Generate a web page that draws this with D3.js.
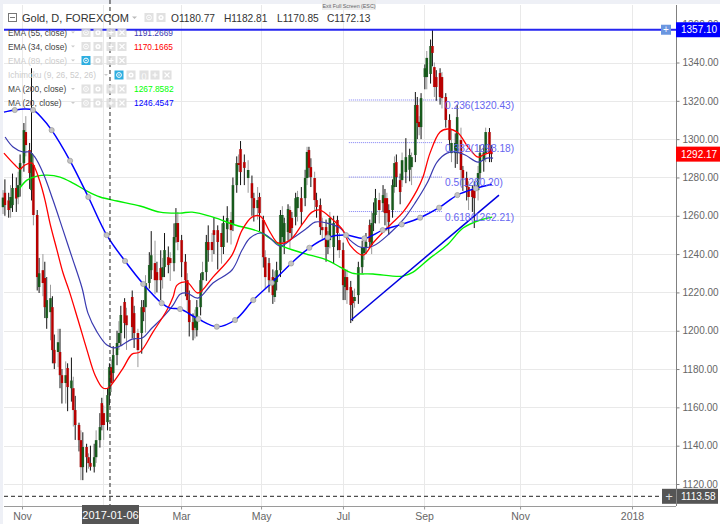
<!DOCTYPE html>
<html><head><meta charset="utf-8">
<style>html,body{margin:0;padding:0;background:#fff;overflow:hidden}svg{display:block}text{font-family:"Liberation Sans",Arial,sans-serif}</style>
<script src="https://cdn.jsdelivr.net/npm/d3@7"></script></head><body><script>
const candleDays=[0,1,3,4,5,7,8,9,11,12,14,15,16,18,19,21,22,23,25,26,27,29,30,31,33,34,36,37,38,40,41,42,44,45,46,48,49,51,52,53,55,56,57,58,60,61,62,64,65,68,69,71,73,74,75,77,78,80,81,83,84,85,87,88,90,91,92,94,96,97,98,100,101,102,104,105,107,108,110,111,113,115,116,118,120,121,123,124,125,127,129,131,132,134,135,137,138,140,142,143,144,146,147,148,150,151,152,154,155,157,159,160,161,162,164,165,167,168,170,171,172,174,176,177,179,180,181,183,184,185,187,189,190,191,193,194,195,196,198,200,201,202,203,205,206,207,209,210,212,214,215,217,218,219,220,222,223,225,226,227,228,230,231,233,235,236,238,239,241,242,244,245,247,248,250,251,253,254,256,257];
const opens=[1264.5,1272,1268,1264,1265.6,1274.5,1269.7,1276,1287.5,1303.7,1294.3,1273.4,1286.5,1260.4,1222.8,1231.6,1227.5,1206.6,1209.7,1212.3,1190,1188.9,1188.9,1176.8,1172.7,1180.5,1170,1170,1158.6,1150.8,1142.9,1128.8,1139.3,1134,1131,1129,1134,1142.9,1162.2,1157,1152.3,1166.4,1181,1177.9,1187.3,1193.6,1198.8,1215,1208,1217.6,1209.2,1198.8,1198.8,1212.3,1212.3,1224.9,1231.6,1235.3,1230.6,1232.7,1228,1233.2,1238.4,1237.9,1235.3,1248.9,1256.2,1247.3,1236,1226.4,1216,1204.5,1201.5,1200.3,1212.3,1226.4,1230.6,1246.3,1246.3,1252.5,1252.5,1251,1243.7,1253,1257.8,1255.2,1276,1287.5,1294.8,1288,1279.7,1277,1269.2,1264,1269.8,1257.8,1238.4,1235.3,1228,1217.6,1225.4,1231.6,1248.9,1246.3,1251.5,1263,1258.8,1259.4,1264,1269.2,1269.2,1279.7,1294.3,1285.4,1279.7,1268.2,1265.6,1254.1,1254.1,1243.7,1247.3,1243.7,1257.8,1247.3,1242.1,1222.8,1228,1222.8,1217.6,1215.5,1218.6,1233.2,1240.5,1243.7,1255.2,1244.7,1256.2,1260.4,1268.2,1266.6,1269.2,1269.2,1263,1263,1275,1288,1278.6,1278.6,1282.8,1284,1285.4,1291.7,1317.8,1309,1306.3,1332.4,1332.4,1334,1348.6,1337.6,1332.4,1334.5,1332.4,1322,1310,1292.7,1292.7,1292.7,1299.5,1283.9,1279.7,1275,1273.4,1274.5,1273.4,1282.3,1289,1292.7,1303.7,1295];
const closes=[1269.5,1265.6,1263,1269.8,1274.5,1269,1276,1287.5,1304.7,1296.9,1282.3,1292.7,1260.4,1228,1230,1224.9,1212.3,1216,1217,1189.9,1183,1194,1176.8,1172.7,1176.8,1170.6,1174,1158.6,1150.8,1142.9,1128.8,1139.3,1134,1130.9,1129,1134,1142.9,1149.7,1150.8,1150.8,1166.4,1181,1172.7,1187.3,1193.6,1198.8,1208.2,1204,1202.9,1201.9,1198.8,1189.9,1212.3,1209.7,1224.9,1234.3,1239.4,1226.4,1226.4,1226.4,1233.2,1242.1,1234.3,1235.3,1248.9,1256.2,1246.3,1235.8,1226.4,1216,1204.5,1200.3,1206.6,1212.3,1226.4,1230.6,1246.3,1242.1,1242.1,1250,1246.3,1243.7,1256.2,1258.8,1252.5,1276,1287.5,1286.5,1282.8,1285,1283.9,1269.2,1264,1268.2,1261.4,1238.4,1228,1226.4,1218.6,1227.5,1231.6,1260.4,1260.4,1256.2,1263.5,1251,1253.6,1269.2,1269.8,1262,1279.7,1293.3,1285,1280.2,1268.2,1264.6,1254.1,1252.5,1243.7,1247.3,1258.8,1256.2,1251,1242.1,1223.8,1228,1221.2,1213.4,1214.4,1217.6,1233.2,1243.7,1243.7,1246.3,1246.3,1256.2,1261.4,1269.2,1263,1270.8,1261.4,1261.4,1256.8,1276,1287.5,1280.2,1272.4,1289,1290.6,1291.7,1290.6,1317.8,1308.4,1306.3,1321.4,1337,1342.4,1348.6,1345,1327.2,1327.2,1322,1321.4,1310,1299.5,1298,1298,1311.5,1283.9,1279.7,1275,1269.8,1269.8,1269.2,1282.3,1292.7,1293,1303.7,1292.7,1292.17];
const highs=[1273.4,1279,1272,1276,1282,1280,1283,1292,1308.4,1312,1298,1337,1292,1263,1238,1240,1236,1228,1224,1218,1198,1201,1201,1180,1184,1183,1186,1176,1166,1152,1148,1147,1141,1136,1140,1141,1148,1157,1165,1161,1170,1183,1185,1192,1200,1205,1213,1217,1212,1221,1213,1201,1216,1216,1229,1241,1252,1247,1236,1242,1238,1251,1244,1241,1256,1264,1262,1250,1240,1230,1221,1209,1211,1216,1230,1236,1250,1255,1251,1259,1255,1256,1260,1265,1262,1280,1291,1292,1299,1292,1289,1281,1272,1275,1272,1260,1242,1238,1232,1231,1236,1263,1265,1259,1266,1265,1262,1272,1273,1275,1284,1296,1296,1290,1283,1272,1269,1259,1258,1252,1262,1260,1260,1251,1246,1232,1232,1226,1221,1222,1236,1247,1248,1251,1258,1262,1267,1274,1272,1276,1274,1272,1266,1279,1291,1292,1282,1293,1300.5,1295,1293,1324.6,1322,1312,1324,1339,1346,1352,1357.1,1340,1336,1337,1335,1324,1313,1305,1303,1318,1306,1286,1283,1278,1276,1278,1286,1297,1297,1306,1305.8,1297];
const lows=[1260.9,1260,1259,1259,1262,1262,1266,1270,1283,1291,1274,1268,1255,1221,1219.7,1218,1206.6,1201,1195,1183,1180,1181,1170,1162,1162,1158,1163,1150,1143,1137,1122,1122,1126,1128,1127,1126,1131,1139,1148,1143,1148,1161,1168,1173,1182,1190,1192,1196,1190,1196,1191,1181,1188,1205,1199,1222,1227,1219,1220,1216,1222,1228,1230,1226,1231,1246,1242,1228,1218,1210,1197,1195,1196,1197,1208,1220,1226,1236,1236,1240,1232,1235,1240,1246,1245,1252,1272,1283,1276,1276,1272,1260,1257,1258,1252,1233,1222,1220,1214,1215,1221,1228,1245,1240,1247,1243,1248,1255,1257,1255,1265,1276,1280,1275,1263,1259,1250,1248,1236,1240,1243,1235,1242,1238,1216,1216,1214,1204,1205,1212,1214,1230,1237,1240,1243,1240,1252,1256,1256,1262,1255,1252,1250,1259,1272,1275,1266,1275,1277,1278,1276,1288,1300,1302,1300,1326,1326,1329,1338,1322,1320,1318,1316,1306,1294,1288,1285,1287,1276,1273,1268,1263,1262,1253.6,1268,1279,1283,1288,1288,1288];
const ma20Days=[0.5,6.2,11,15.8,20.5,25.6,35.3,44.9,54.6,64.2,73.8,83.5,87.9,93.2,102.8,112.5,122.1,131.7,141.4,151.6,161.2,170.9,180.5,190.2,199.8,209.8,219.5,229.5,239.1,248.8,257.2];
const ma20Values=[1314.1,1315.2,1315.7,1315.2,1311,1304.7,1288.7,1269.8,1249.9,1236.4,1224.4,1214.4,1211.8,1211.3,1206.1,1202.1,1205.6,1216,1225,1235.1,1243.3,1248.7,1249.9,1248.2,1252.5,1255.5,1259,1264.2,1270.8,1274.3,1276.4];
const ma20Unmarked=[0.5,11,20.5,87.9,257.2];
const ema34Days=[0.5,6.3,8.9,11.6,15.3,16.8,19.5,22.1,24.7,28.4,31.6,34.7,39.5,44.2,48.4,52.6,55.3,58.9,63.2,67.9,72.1,78.9,86.3,89.5,91.6,96.8,102.6,110.5,120.5,125.8,131,135.3,140.5,144.7,151,157.9,162.6,166.8,173.7,178.9,182.6,189.5,194.7,203.7,210.5,217.9,221,224.7,230,234.2,239.5,244.7,250,252.6,257.4];
const ema34Values=[1292.7,1286.5,1284.4,1286.5,1287.5,1284.9,1277.6,1268.2,1256.2,1242.1,1230.1,1221.2,1205.6,1189.9,1176.9,1170.1,1170.1,1174.2,1180.5,1187.8,1188.9,1199.3,1210.8,1217.6,1223.8,1225.4,1219.7,1228,1239.5,1252.5,1259.3,1259.8,1251.5,1245.8,1247.3,1256.2,1261.9,1263,1257.8,1252.5,1244.7,1239.5,1245.8,1255.2,1261.9,1273.4,1280.2,1292.7,1303.7,1305.3,1303.2,1295.9,1290.6,1291.7,1293.3];
const ema55Days=[1.1,5.3,10.5,14.2,16.8,21.1,26.3,31.6,36.3,41.6,44.7,49.5,54.7,58.9,62.6,67.9,73.2,78.4,84.2,89.5,93.2,96.8,102.6,110.5,120.5,125.8,130,136.3,140.5,145.8,152.6,160,164.2,170.5,177.4,182.6,187.9,194.7,203.7,210.5,216.8,223.2,228.4,233.7,237.9,243.2,250,254.7,257.9];
const ema55Values=[1301.1,1295.9,1293.3,1293.3,1290.6,1282.3,1268.2,1252.5,1238.4,1222.3,1209.2,1199.3,1192.5,1191,1192.5,1195.6,1196.2,1201.4,1207.1,1213.4,1219.1,1219.7,1217,1224.9,1231.7,1242.1,1248.4,1251,1248.4,1244.2,1248.4,1253.6,1256.7,1256.2,1253.6,1247.3,1243.7,1244.2,1251,1257.8,1266.6,1277.1,1288,1292.7,1293.3,1291.7,1288,1290.1,1290.1];
const ma200Days=[8.9,12.6,17.9,23.2,30,36.8,44.2,51.1,60,72.1,82.6,93.2,99.5,110.5,122.1,135.3,145.8,157.9,170.5,177.4,183.7,194.7,210.5,215.8,224.7,233.7,242.1,251.1,257.4];
const ma200Values=[1274.5,1278.6,1280.7,1281.2,1280.2,1277.1,1272.9,1269.8,1267.7,1265.1,1261.9,1261.4,1261.9,1259.3,1255.2,1251.5,1244.7,1240.5,1236.9,1233.2,1230.1,1229.6,1228.5,1230.6,1237.9,1244.7,1253.6,1257.8,1259.3];
const trendDays=[183.2,261], trendPrices=[1205.6,1270.8];
const fibLevels=["0.236","0.382","0.5","0.618"], fibPrices=[1320.43,1298.18,1280.20,1262.21];
const fibStartDay=182, fibEndDay=231;
const priceTicks=[1120,1140,1160,1180,1200,1220,1240,1260,1280,1300,1320,1340,1360];
const timeTickDays=[10,52.6,93.7,135.8,178.9,221.6,272.1,331];
const timeTickLabels=["Nov","","Mar","May","Jul","Sep","Nov","2018"];
const highLevel=1357.10,lastPrice=1292.17,crossPrice=1113.58,crossDay=56.3,crossLabel="2017-01-06";
const legendRows=[["EMA (55, close)","1191.2669","#3a3ab0",false],["EMA (34, close)","1170.1665","#ff0000",false],["EMA (89, close)","","",true],["Ichimoku (9, 26, 52, 26)","","",true],["MA (200, close)","1267.8582","#00ff00",false],["MA (20, close)","1246.4547","#0000ff",false]];

const W=720,H=524,plotL=4,plotR=676,plotT=5,plotB=506;
const x=d3.scaleLinear().domain([0,331]).range([3,632]);
const y=d3.scaleLinear().domain([1120,1340]).range([484,62.5]);
const svg=d3.select("body").append("svg").attr("width",W).attr("height",H);
svg.append("rect").attr("width",W).attr("height",H).attr("fill","#fff");
svg.append("rect").attr("width",W).attr("height",4).attr("fill","#eef0f6");
svg.append("rect").attr("width",3).attr("height",H).attr("fill","#eef0f6");
const grid=svg.append("g").attr("stroke","#e9e9e9").attr("stroke-width",1);
grid.selectAll(".h").data(priceTicks.slice(0,-1)).join("line").attr("x1",plotL).attr("x2",plotR).attr("y1",d=>Math.round(y(d))+.5).attr("y2",d=>Math.round(y(d))+.5);
grid.selectAll(".v").data(timeTickDays).join("line").attr("x1",d=>Math.round(x(d))+.5).attr("x2",d=>Math.round(x(d))+.5).attr("y1",plotT).attr("y2",plotB);

// fib
const fib=svg.append("g");
fib.selectAll("line").data(fibPrices).join("line").attr("x1",x(fibStartDay)).attr("x2",x(fibEndDay)).attr("y1",d=>y(d)).attr("y2",d=>y(d)).attr("stroke","#7f7ff5").attr("stroke-width",1).attr("stroke-dasharray","1 1");

// candles
const bars=candleDays.map((d,i)=>({d,i,o:opens[i],c:closes[i],h:highs[i],l:lows[i]}));
const cg=svg.append("g");
cg.selectAll(".w").data(bars).join("line").attr("x1",d=>x(d.d)).attr("x2",d=>x(d.d)).attr("y1",d=>y(d.h)).attr("y2",d=>y(d.l)).attr("stroke",d=>d.i%3===0?"#9a9a9a":"#111").attr("stroke-width",1);
cg.selectAll(".s").data(bars).join("rect").attr("x",d=>x(d.d)-1.7).attr("width",3.4).attr("y",d=>y(Math.max(d.o,d.c))).attr("height",d=>Math.max(1,Math.abs(y(d.o)-y(d.c)))).attr("fill","#aaa").attr("opacity",.35);
cg.selectAll(".b").data(bars).join("rect").attr("x",d=>x(d.d)-1.2).attr("width",2.4).attr("y",d=>y(Math.max(d.o,d.c))).attr("height",d=>Math.max(1,Math.abs(y(d.o)-y(d.c)))).attr("fill",d=>d.c>=d.o?"#175a1c":"#b80000");

// lines
const lineGen=d3.line().x(d=>x(d[0])).y(d=>y(d[1])).curve(d3.curveCatmullRom.alpha(.5));
function drawLine(days,vals,color,w){svg.append("path").attr("d",lineGen(days.map((d,i)=>[d,vals[i]]))).attr("fill","none").attr("stroke",color).attr("stroke-width",w);}
drawLine(ma200Days,ma200Values,"#00f000",1.4);
drawLine(ema55Days,ema55Values,"#3a3ab0",1.2);
drawLine(ema34Days,ema34Values,"#ff0000",1.3);
drawLine(ma20Days,ma20Values,"#0000ff",1.5);
svg.append("g").selectAll("circle").data(ma20Days.map((d,i)=>[d,ma20Values[i]]).filter(p=>!ma20Unmarked.includes(p[0]))).join("circle").attr("cx",d=>x(d[0])).attr("cy",d=>y(d[1])).attr("r",2.6).attr("fill","#c4c4c4").attr("stroke","#999").attr("stroke-width",.7);
svg.append("line").attr("x1",x(trendDays[0])).attr("x2",x(trendDays[1])).attr("y1",y(trendPrices[0])).attr("y2",y(trendPrices[1])).attr("stroke","#0000e0").attr("stroke-width",1.5);

// high level line
svg.append("line").attr("x1",plotL).attr("x2",plotR).attr("y1",y(highLevel)).attr("y2",y(highLevel)).attr("stroke","#2525f0").attr("stroke-width",2);

// fib labels
svg.append("g").selectAll("text").data(fibPrices).join("text").attr("x",445).attr("y",d=>y(d)+9).attr("font-size",10.2).attr("fill","#6666f0").text((d,i)=>`${fibLevels[i]}(${d.toFixed(2)})`);

// axes
const yAxis=d3.axisRight(y).tickValues(priceTicks).tickFormat(d3.format(".2f")).tickSize(3).tickPadding(3);
const ya=svg.append("g").attr("transform",`translate(${plotR+.5},0)`).call(yAxis);
ya.select(".domain").attr("d",`M0,${plotT}V${plotB}`).attr("stroke","#808080");
ya.selectAll("line").attr("stroke","#808080");
ya.selectAll("text").attr("font-size",10).attr("fill","#666").style("font-family",'"Liberation Sans"');
const xAxis=d3.axisBottom(x).tickValues(timeTickDays).tickFormat((d,i)=>timeTickLabels[i]).tickSize(3).tickPadding(3);
const xa=svg.append("g").attr("transform",`translate(0,${plotB+.5})`).call(xAxis);
xa.select(".domain").attr("d",`M${plotL},0H${plotR}`).attr("stroke","#9a9a9a");
xa.selectAll("line").attr("stroke","#9a9a9a");
xa.selectAll("text").attr("font-size",10.5).attr("fill","#666").style("font-family",'"Liberation Sans"');

// crosshair
const cx=x(crossDay);
svg.append("line").attr("x1",cx).attr("x2",cx).attr("y1",0).attr("y2",plotB).attr("stroke","#222").attr("stroke-width",1).attr("stroke-dasharray","4 3");
svg.append("line").attr("x1",plotL).attr("x2",plotR-15).attr("y1",y(crossPrice)).attr("y2",y(crossPrice)).attr("stroke","#222").attr("stroke-width",1).attr("stroke-dasharray","4 3");
svg.append("rect").attr("x",cx-28).attr("y",505).attr("width",57).attr("height",19).attr("fill","#555");
svg.append("text").attr("x",cx+.5).attr("y",518.5).attr("text-anchor","middle").attr("font-size",11).attr("fill","#fff").text(crossLabel);

// price labels
function tag(px,color,txt,x0,w){const cy=y(px);svg.append("rect").attr("x",x0).attr("y",cy-7.5).attr("width",w).attr("height",15).attr("fill",color);
 svg.append("text").attr("x",681).attr("y",cy+3.6).attr("font-size",10).attr("fill","#fff").text(txt);}
tag(highLevel,"#0000ff",highLevel.toFixed(2),676,44);
tag(lastPrice,"#ff0000",lastPrice.toFixed(2),676,44);
tag(crossPrice,"#555555",crossPrice.toFixed(2),662,56);
svg.append("line").attr("x1",676.5).attr("x2",676.5).attr("y1",y(crossPrice)-7.5).attr("y2",y(crossPrice)+7.5).attr("stroke","#888");
svg.append("text").attr("x",669).attr("y",y(crossPrice)+4.5).attr("text-anchor","middle").attr("font-size",13).attr("fill","#ddd").text("+");
svg.append("rect").attr("x",661).attr("y",y(highLevel)-5).attr("width",10).attr("height",10).attr("fill","#6a96e0");
svg.append("text").attr("x",666).attr("y",y(highLevel)+3.5).attr("text-anchor","middle").attr("font-size",10).attr("fill","#fff").text("+");

// exit tooltip
svg.append("rect").attr("x",322).attr("y",0).attr("width",54).attr("height",10).attr("fill","#ececec");
svg.append("text").attr("x",349).attr("y",7.5).attr("text-anchor","middle").attr("font-size",5.3).attr("fill","#666").text("Exit Full Screen (ESC)");

// legend
const lg=svg.append("g");
function icon(px,py,kind,active){const g=lg.append("g").attr("transform",`translate(${px},${py})`).attr("opacity",active?1:.85);
 g.append("rect").attr("x",-4.5).attr("y",-4.5).attr("width",9).attr("height",9).attr("fill",active?"#2eaee0":"#dcdcdc");
 if(kind==="eye"){g.append("circle").attr("r",2.4).attr("fill","none").attr("stroke","#fff").attr("stroke-width",1);g.append("circle").attr("r",.8).attr("fill","#fff");}
 if(kind==="gear"){g.append("circle").attr("r",2.6).attr("fill","#fff");g.append("circle").attr("r",1).attr("fill","#dcdcdc");}
 if(kind==="plus"){g.append("path").attr("d","M-2.5,0H2.5M0,-2.5V2.5").attr("stroke","#fff").attr("stroke-width",1.2);}
 if(kind==="x"){g.append("path").attr("d","M-2.5,-2.5L2.5,2.5M2.5,-2.5L-2.5,2.5").attr("stroke","#fff").attr("stroke-width",1.2);}
 if(kind==="paren"){g.append("text").attr("text-anchor","middle").attr("y",3).attr("font-size",8).attr("fill","#fff").text("()");}
}
lg.append("rect").attr("x",8.5).attr("y",13.5).attr("width",8).attr("height",8).attr("fill","none").attr("stroke","#777");
lg.append("path").attr("d","M10,17.5H15").attr("stroke","#777");
lg.append("text").attr("x",22).attr("y",22).attr("font-size",11).attr("fill","#333").text("Gold, D, FOREXCOM");
lg.append("path").attr("d","M132,16.5h5l-2.5,2.5z").attr("fill","#bbb");
icon(149,17.5,"eye");icon(161,17.5,"gear");
lg.append("text").attr("x",171).attr("y",22).attr("font-size",10.2).attr("fill","#333").text("O1180.77");
lg.append("text").attr("x",224).attr("y",22).attr("font-size",10.2).attr("fill","#333").text("H1182.81");
lg.append("text").attr("x",277).attr("y",22).attr("font-size",10.2).attr("fill","#333").text("L1170.85");
lg.append("text").attr("x",327).attr("y",22).attr("font-size",10.2).attr("fill","#333").text("C1172.13");
const rowY=[32.5,46.5,60.5,75,89,103];
legendRows.forEach((r,i)=>{const ry=rowY[i];
 lg.append("text").attr("x",8).attr("y",ry+3).attr("font-size",8.4).attr("fill",r[3]?"#ccc":"#444").text(r[0]);
 const isI=r[0].startsWith("Ichimoku");
 const sx=isI?119:86;
 lg.append("path").attr("d",`M${sx-15},${ry-1}h4l-2,2z`).attr("fill","#ccc");
 if(isI){icon(119,ry,"eye",true);icon(131,ry,"gear");icon(144,ry,"paren");icon(155,ry,"plus");icon(167,ry,"x");}
 else{icon(86,ry,"eye",r[3]);icon(98,ry,"gear");icon(111,ry,"plus");icon(122,ry,"x");}
 if(r[1])lg.append("text").attr("x",134).attr("y",ry+3).attr("font-size",8.4).attr("fill",r[2]).text(r[1]);
});
</script></body></html>
